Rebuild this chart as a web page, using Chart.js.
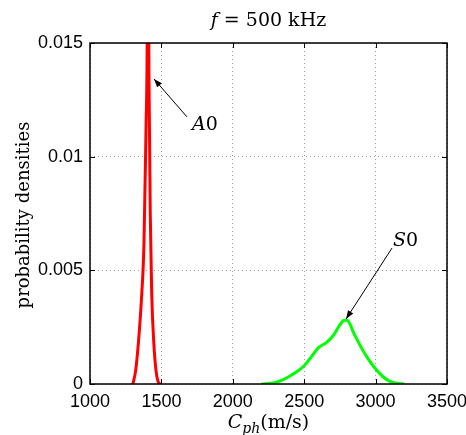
<!DOCTYPE html>
<html>
<head>
<meta charset="utf-8">
<script src="https://cdn.jsdelivr.net/npm/chart.js@4"></script>
<style>
  html, body { margin: 0; padding: 0; background: #fff; }
  #wrap { width: 466px; height: 435px; }
</style>
</head>
<body>
<div id="wrap"><canvas id="pdfChart" width="466" height="435"></canvas></div>
<script>
// A0 mode phase velocity density (m/s, density)
const a0Speed = [1300, 1320, 1340, 1360, 1378, 1393, 1399, 1406, 1413, 1422, 1432, 1447, 1462, 1477, 1492];
const a0Density = [0, 0.0006, 0.0019, 0.0037, 0.0062, 0.0115, 0.0138, 0.021, 0.0135, 0.0075, 0.004, 0.0018, 0.0006, 0.0001, 0];

// S0 mode
const s0Speed = [2200, 2250, 2300, 2350, 2400, 2450, 2500, 2550, 2600, 2650, 2700, 2750, 2780, 2800, 2850, 2900, 2950, 3000, 3050, 3100, 3150, 3200];
const s0Density = [0, 0.00002, 0.00007, 0.00018, 0.00035, 0.00055, 0.0008, 0.0012, 0.0016, 0.0018, 0.0021, 0.0026, 0.0028, 0.0028, 0.0022, 0.0016, 0.00108, 0.00066, 0.00033, 0.00012, 0.00003, 0];

const xTicks = [1000, 1500, 2000, 2500, 3000, 3500];
const yTicks = [0, 0.005, 0.01, 0.015];

// annotations in data coordinates: label pos, arrow tail, arrow tip
const annotations = [
    { label: 'A', sub: '0', text: [1714, 0.0114], tail: [1679, 0.01175], tip: [1448, 0.01342] },
    { label: 'S', sub: '0', text: [3122, 0.00629], tail: [3115, 0.00598], tip: [2793, 0.00286] }
];

const toPts = (xs, ys) => xs.map((x, i) => ({ x: x, y: ys[i] }));

// draws the box, inward ticks, annotations and math-style labels
const decorPlugin = {
    id: 'decor',
    afterDraw(chart) {
        const ctx = chart.ctx;
        const area = chart.chartArea;
        const xs = chart.scales.x, ys = chart.scales.y;
        ctx.save();

        // inward tick marks
        ctx.strokeStyle = '#000';
        ctx.lineWidth = 1;
        const tl = 5;
        ctx.beginPath();
        xTicks.forEach(v => {
            const px = Math.round(xs.getPixelForValue(v)) + 0.5;
            ctx.moveTo(px, area.bottom); ctx.lineTo(px, area.bottom - tl);
            ctx.moveTo(px, area.top); ctx.lineTo(px, area.top + tl);
        });
        yTicks.forEach(v => {
            const py = Math.round(ys.getPixelForValue(v)) + 0.5;
            ctx.moveTo(area.left, py); ctx.lineTo(area.left + tl, py);
            ctx.moveTo(area.right, py); ctx.lineTo(area.right - tl, py);
        });
        ctx.stroke();

        // box
        ctx.lineWidth = 1.5;
        ctx.strokeRect(area.left, area.top, area.right - area.left, area.bottom - area.top);

        // arrows
        annotations.forEach(a => {
            const x0 = xs.getPixelForValue(a.tail[0]), y0 = ys.getPixelForValue(a.tail[1]);
            const x1 = xs.getPixelForValue(a.tip[0]), y1 = ys.getPixelForValue(a.tip[1]);
            ctx.lineWidth = 1;
            ctx.beginPath();
            ctx.moveTo(x0, y0); ctx.lineTo(x1, y1);
            ctx.stroke();
            const ang = Math.atan2(y1 - y0, x1 - x0);
            const hl = 9, hw = 0.35;
            ctx.beginPath();
            ctx.moveTo(x1, y1);
            ctx.lineTo(x1 - hl * Math.cos(ang - hw), y1 - hl * Math.sin(ang - hw));
            ctx.lineTo(x1 - hl * Math.cos(ang + hw), y1 - hl * Math.sin(ang + hw));
            ctx.closePath();
            ctx.fillStyle = '#000';
            ctx.fill();

            const tx = xs.getPixelForValue(a.text[0]), ty = ys.getPixelForValue(a.text[1]);
            ctx.textBaseline = 'middle';
            ctx.textAlign = 'left';
            ctx.font = 'italic 19px "DejaVu Serif"';
            ctx.fillText(a.label, tx, ty);
            const w = ctx.measureText(a.label).width;
            ctx.font = '19px "DejaVu Serif"';
            ctx.fillText(a.sub, tx + w, ty);
        });

        // title
        ctx.fillStyle = '#000';
        ctx.textBaseline = 'alphabetic';
        ctx.textAlign = 'left';
        const cx = (area.left + area.right) / 2;
        ctx.font = 'italic 19px "DejaVu Serif"';
        const fW = ctx.measureText('f').width;
        ctx.font = '19px "DejaVu Serif"';
        const restT = ' = 500 kHz';
        const rW = ctx.measureText(restT).width;
        let sx = cx - (fW + rW) / 2;
        ctx.font = 'italic 19px "DejaVu Serif"';
        ctx.fillText('f', sx, 26);
        ctx.font = '19px "DejaVu Serif"';
        ctx.fillText(restT, sx + fW, 26);

        // x label C_ph(m/s)
        ctx.font = 'italic 19px "DejaVu Serif"';
        const cW = ctx.measureText('C').width;
        ctx.font = 'italic 14px "DejaVu Serif"';
        const subW = ctx.measureText('ph').width;
        ctx.font = '19px "DejaVu Serif"';
        const unitW = ctx.measureText('(m/s)').width;
        sx = cx - (cW + subW + unitW) / 2;
        const by = 428;
        ctx.font = 'italic 19px "DejaVu Serif"';
        ctx.fillText('C', sx, by);
        ctx.font = 'italic 14px "DejaVu Serif"';
        ctx.fillText('ph', sx + cW, by + 5);
        ctx.font = '19px "DejaVu Serif"';
        ctx.fillText('(m/s)', sx + cW + subW, by);

        // y label
        ctx.save();
        ctx.translate(29, 215);
        ctx.rotate(-Math.PI / 2);
        ctx.textAlign = 'center';
        ctx.textBaseline = 'alphabetic';
        ctx.font = '18px "DejaVu Serif"';
        ctx.fillText('probability densities', 0, 0);
        ctx.restore();

        ctx.restore();
    }
};

const gridOpts = { color: '#a0a0a0', drawTicks: false, lineWidth: 1 };
const borderOpts = { display: false, dash: [1, 3] };

new Chart(document.getElementById('pdfChart'), {
    type: 'line',
    data: {
        datasets: [
            {
                label: 'A0',
                data: toPts(a0Speed, a0Density),
                borderColor: '#ff0000',
                borderWidth: 3,
                pointRadius: 0,
                cubicInterpolationMode: 'monotone',
                clip: 0
            },
            {
                label: 'S0',
                data: toPts(s0Speed, s0Density),
                borderColor: '#00ff00',
                borderWidth: 3,
                pointRadius: 0,
                cubicInterpolationMode: 'monotone',
                clip: 0
            }
        ]
    },
    options: {
        responsive: false,
        animation: false,
        layout: { padding: { top: 43, right: 19, left: 0, bottom: 0 } },
        plugins: { legend: { display: false }, tooltip: { enabled: false } },
        scales: {
            x: {
                type: 'linear',
                min: 1000,
                max: 3500,
                afterFit: s => { s.height = 51; s.paddingLeft = 0; s.paddingRight = 0; },
                afterBuildTicks: s => { s.ticks = xTicks.map(v => ({ value: v })); },
                ticks: {
                    color: '#000',
                    padding: 7,
                    maxRotation: 0,
                    font: { family: '"Liberation Sans"', size: 18 },
                    callback: v => String(v)
                },
                grid: gridOpts,
                border: borderOpts
            },
            y: {
                min: 0,
                max: 0.015,
                afterFit: s => { s.width = 90; s.paddingTop = 0; s.paddingBottom = 0; },
                afterBuildTicks: s => { s.ticks = yTicks.map(v => ({ value: v })); },
                ticks: {
                    color: '#000',
                    padding: 7,
                    font: { family: '"Liberation Sans"', size: 18 },
                    callback: v => String(+v.toFixed(3))
                },
                grid: gridOpts,
                border: borderOpts
            }
        }
    },
    plugins: [decorPlugin]
});
</script>
</body>
</html>
